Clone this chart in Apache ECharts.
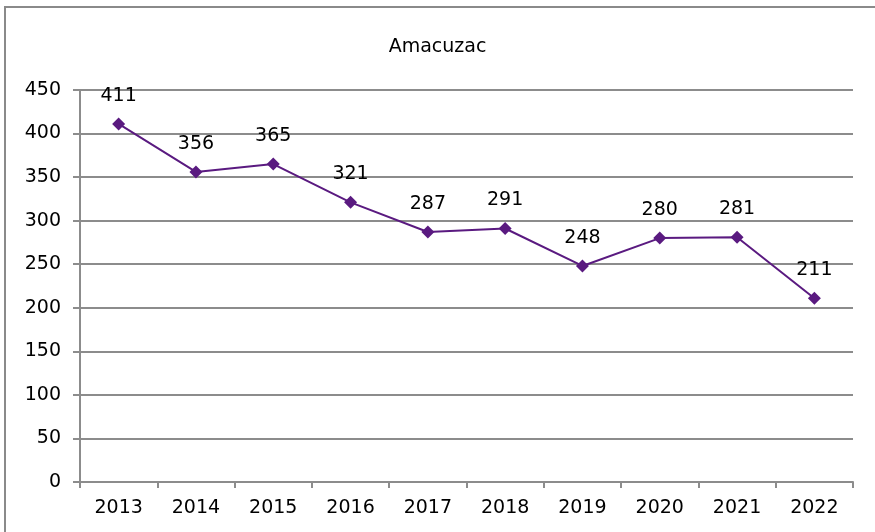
<!DOCTYPE html>
<html>
<head>
<meta charset="utf-8">
<script src="https://cdn.jsdelivr.net/npm/echarts@6/dist/echarts.min.js"></script>
<style>
  html, body { margin: 0; padding: 0; background: #fff; }
  #chart { width: 875px; height: 532px; }
</style>
</head>
<body>
<div id="chart"></div>
<script>
  const years = ['2013', '2014', '2015', '2016', '2017', '2018', '2019', '2020', '2021', '2022'];
  const values = [411, 356, 365, 321, 287, 291, 248, 280, 281, 211];
  const yTicks = [0, 50, 100, 150, 200, 250, 300, 350, 400, 450];

  const FONT = '"DejaVu Sans", sans-serif';
  const GRID_COLOR = '#8c8c8c';
  const LINE_COLOR = '#5a1a80';

  const chart = echarts.init(document.getElementById('chart'));
  chart.setOption({
    animation: false,
    title: {
      text: 'Amacuzac',
      left: 'center',
      top: 33,
      textStyle: { fontFamily: FONT, fontSize: 19, fontWeight: 'normal', color: '#000' },
    },
    // outer chart frame, runs off the right and bottom edges
    graphic: [{
      type: 'rect',
      shape: { x: 5, y: 7, width: 900, height: 560 },
      style: { fill: null, stroke: '#8a8a8a', lineWidth: 2 },
      silent: true,
    }],
    grid: { left: 80, right: 22, top: 90, bottom: 50 },
    xAxis: {
      type: 'category',
      data: years,
      boundaryGap: true,
      axisLine: { lineStyle: { color: GRID_COLOR, width: 2 } },
      axisTick: { show: true, length: 6, lineStyle: { color: GRID_COLOR, width: 2 } },
      axisLabel: { fontFamily: FONT, fontSize: 19, color: '#000', margin: 17 },
    },
    yAxis: {
      type: 'value',
      min: yTicks[0],
      max: yTicks[yTicks.length - 1],
      interval: 50,
      axisLine: { show: true, lineStyle: { color: GRID_COLOR, width: 2 } },
      axisTick: { show: true, length: 7, lineStyle: { color: GRID_COLOR, width: 2 } },
      axisLabel: { fontFamily: FONT, fontSize: 19, color: '#000', margin: 19 },
      splitLine: { lineStyle: { color: GRID_COLOR, width: 2 } },
    },
    series: [{
      type: 'line',
      data: values,
      symbol: 'diamond',
      symbolSize: 13,
      lineStyle: { color: LINE_COLOR, width: 2 },
      itemStyle: { color: LINE_COLOR },
      label: {
        show: true,
        position: 'top',
        distance: 12,
        fontFamily: FONT,
        fontSize: 19,
        color: '#000',
      },
    }],
  });
</script>
</body>
</html>
